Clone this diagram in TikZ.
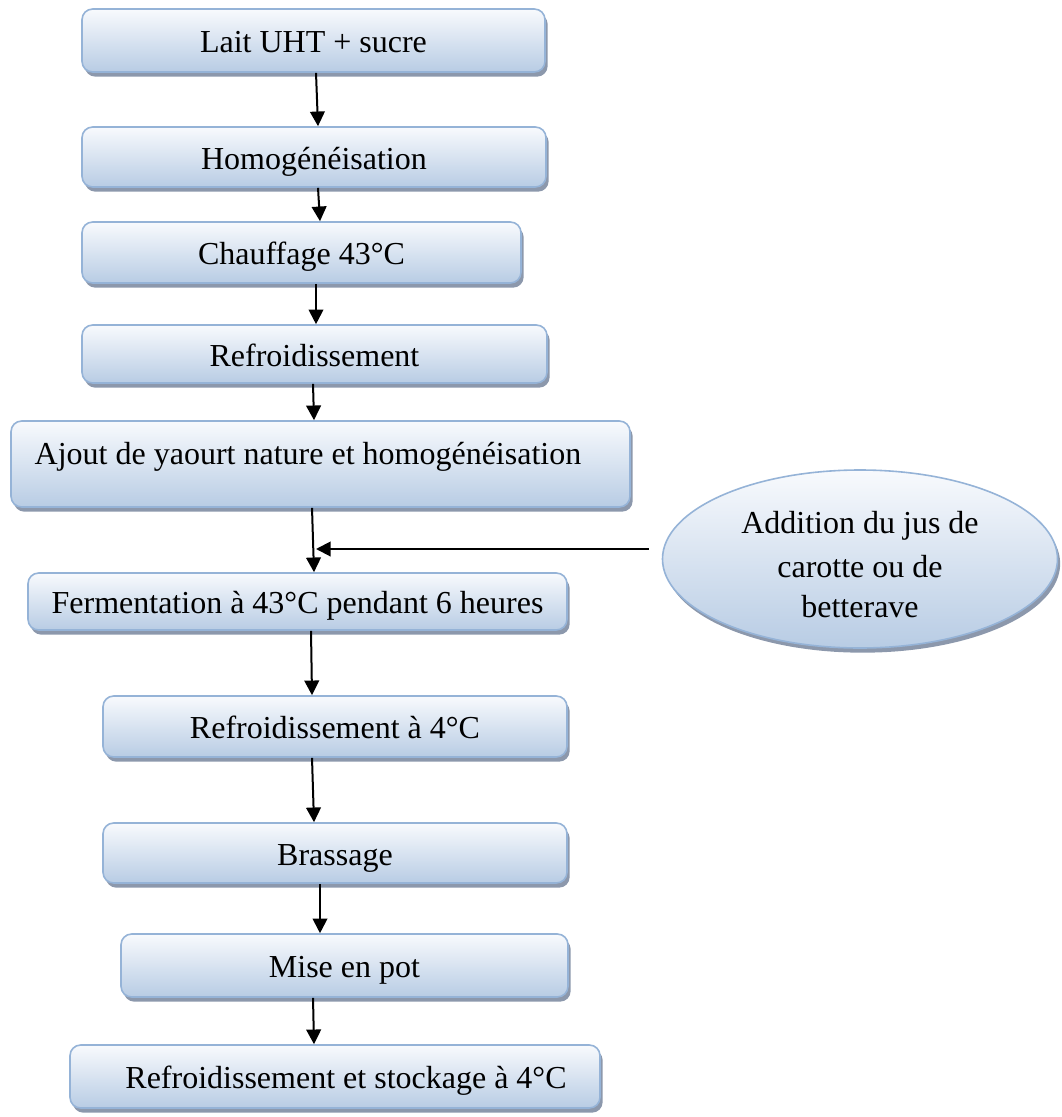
\documentclass[tikz,border=0pt]{standalone}
\usepackage{fontspec}
\setmainfont{Liberation Serif}
\usetikzlibrary{arrows.meta,shadows,shapes.geometric}
\definecolor{bordc}{RGB}{149,179,215}
\definecolor{topc}{RGB}{248,250,253}
\definecolor{botc}{RGB}{184,204,228}
\definecolor{shadc}{RGB}{140,152,172}
\begin{document}
\begin{tikzpicture}[x=0.75pt,y=-0.75pt,
  txt/.style={font=\fontsize{24}{31.5}\selectfont, inner sep=0pt},
  stepbox/.style={draw=bordc, line width=1.2pt, rounded corners=8pt,
    top color=topc, bottom color=botc,
    drop shadow={shadow xshift=2pt, shadow yshift=-3.5pt, fill=shadc, opacity=1},
    txt, text height=20pt, text depth=2pt},
  ellbox/.style={ellipse, draw=bordc, line width=1.2pt,
    top color=topc, bottom color=botc,
    drop shadow={shadow xshift=2pt, shadow yshift=-3.5pt, fill=shadc, opacity=1}},
  arr/.style={line width=1.5pt, -{Triangle[length=11pt,width=11pt]}}]
\useasboundingbox (0,0) rectangle (1061,1117);

% boxes
\node[stepbox, minimum width=347.25pt, minimum height=47.25pt] (b1) at (313.5,40.5) {Lait UHT + sucre};
\node[stepbox, minimum width=348pt, minimum height=45pt] (b2) at (314,157) {Homogénéisation};
\node[stepbox, minimum width=329.25pt, minimum height=45.75pt] (b3) at (301.5,252.5) {Chauffage 43°C};
\node[stepbox, minimum width=348.75pt, minimum height=43.5pt] (b4) at (314.5,354) {Refroidissement};
\node[stepbox, minimum width=464.25pt, minimum height=64.5pt] (b5) at (320.5,464) {};
\node[txt, anchor=base] (t5) at (308,464) {Ajout de yaourt nature et homogénéisation};
\node[stepbox, minimum width=404.25pt, minimum height=42.75pt] (b6) at (297.5,601.5) {Fermentation à 43°C pendant 6 heures};
\node[stepbox, minimum width=348pt, minimum height=45.75pt] (b7) at (335,726.5) {Refroidissement à 4°C};
\node[stepbox, minimum width=348pt, minimum height=45pt] (b8) at (335,853) {Brassage};
\node[stepbox, minimum width=335.25pt, minimum height=47.25pt] (b9) at (344.5,965.5) {Mise en pot};
\node[stepbox, minimum width=397.5pt, minimum height=47.25pt] (b10) at (335,1076.5) {};
\node[txt, anchor=base] (t10) at (346,1088) {Refroidissement et stockage à 4°C};

% ellipse
\node[ellbox, minimum width=296.25pt, minimum height=133.5pt] (el) at (860,559) {};
\node[txt, anchor=base] (e1) at (860,533) {Addition du jus de};
\node[txt, anchor=base] (e2) at (860,577) {carotte ou de};
\node[txt, anchor=base] (e3) at (860,617) {betterave};

% arrows
\draw[arr] ([shift={(2.5,0)}]b1.south) -- ([shift={(4,0)}]b2.north);
\draw[arr] ([shift={(4,0)}]b2.south) -- ([shift={(18.5,0)}]b3.north);
\draw[arr] ([shift={(14.5,0)}]b3.south) -- ([shift={(1.5,0)}]b4.north);
\draw[arr] ([shift={(-1.5,0)}]b4.south) -- ([shift={(-6.5,0)}]b5.north);
\draw[arr] ([shift={(-8.5,0)}]b5.south) -- ([shift={(16.5,0)}]b6.north);
\coordinate (j) at (316,549);
\draw[arr] ([shift={(-13,-10)}]el.west) -- (j);
\draw[arr] ([shift={(13.5,0)}]b6.south) -- ([shift={(-23,0)}]b7.north);
\draw[arr] ([shift={(-23,0)}]b7.south) -- ([shift={(-21,0)}]b8.north);
\draw[arr] ([shift={(-15,0)}]b8.south) -- ([shift={(-24.5,0)}]b9.north);
\draw[arr] ([shift={(-31.5,0)}]b9.south) -- ([shift={(-21,0)}]b10.north);
\end{tikzpicture}
\end{document}
